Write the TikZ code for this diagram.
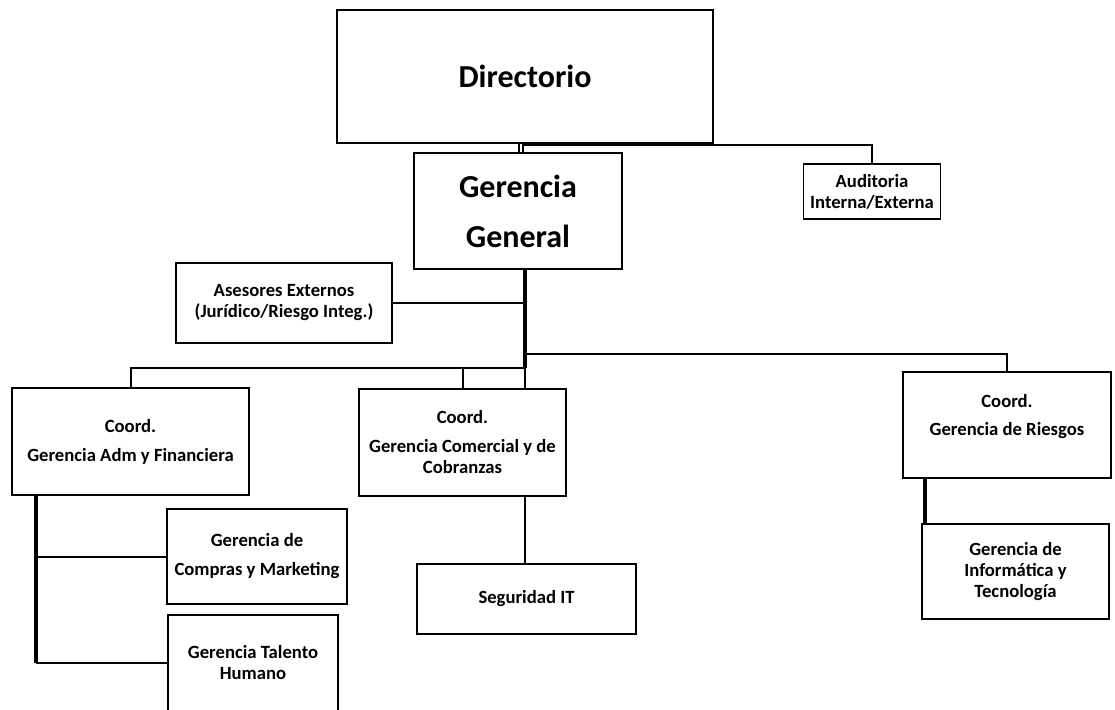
\documentclass[tikz,border=0pt]{standalone}
\usepackage{fontspec}
\setmainfont{Carlito}
\newcommand\orgsmall{\bfseries\fontsize{18.67}{21}\selectfont}
\newcommand\orgbig{\bfseries\fontsize{32}{50}\selectfont}
\tikzset{
  box/.style={draw, line width=1.8pt, inner sep=0pt, align=center, font=\orgsmall},
  bigbox/.style={box, font=\orgbig},
  ln/.style={line width=2pt},
  thk/.style={line width=3.2pt},
}
\begin{document}
\begin{tikzpicture}[x=1pt,y=-1pt]
\clip (0,0) rectangle (1115,709);
% boxes
\node[bigbox, minimum width=376pt, minimum height=133pt] (dir) at (525,76.5) {Directorio};
\node[bigbox, minimum width=208pt, minimum height=116pt] (gg) at (518,211) {Gerencia\\General};
\node[box, minimum width=137pt, minimum height=55pt] (aud) at (872,191.5) {Auditoria\\Interna/Externa};
\node[box, minimum width=216pt, minimum height=80pt] (ase) at (284,303) {Asesores Externos\\(Jurídico/Riesgo Integ.)};
\node[box, minimum width=237pt, minimum height=107pt] (adm) at (130.5,441.5) {Coord.\\[8pt]Gerencia Adm y Financiera};
\node[box, minimum width=207pt, minimum height=107pt] (com) at (462.5,442.5) {Coord.\\[8pt]Gerencia Comercial y de\\Cobranzas};
\node[box, minimum width=208pt, minimum height=106pt] (rie) at (1007,425) {Coord.\\[7pt]Gerencia de Riesgos\\[-1pt]\mbox{}};
\node[box, minimum width=180pt, minimum height=95pt] (cmp) at (257,556.5) {Gerencia de\\[8pt]Compras y Marketing};
\node[box, minimum width=170pt, minimum height=96pt] (tal) at (253,663) {Gerencia Talento\\Humano};
\node[box, minimum width=219pt, minimum height=70pt] (seg) at (526.5,599) {Seguridad IT};
\node[box, minimum width=187pt, minimum height=95pt] (inf) at (1015.5,571.5) {Gerencia de\\Informática y\\Tecnología};
% helper coordinates
\coordinate (xa) at (519,0);
\coordinate (xb) at (523,0);
\coordinate (ya) at (0,144.5);
\coordinate (tx) at (525,0);
\coordinate (rb) at (525,354);
\coordinate (lb) at (525,368);
\coordinate (lx) at (36,0);
\coordinate (ly) at (0,663);
\coordinate (ix) at (925,0);
% connectors
\draw[ln] (dir.south -| xa) -- (gg.north -| xa);
\draw[ln] (gg.north -| xb) |- (aud.north |- ya) -- (aud.north);
\draw[thk] (gg.south -| tx) -- (lb);
\draw[ln] (lb) -- (com.north -| tx);
\draw[ln] (ase.east) -- (ase.east -| tx);
\draw[ln] (rb) -| (rie.north);
\draw[ln] (lb) -| (adm.north);
\draw[ln] (com.north) -- (com.north |- lb);
\draw[thk] (adm.south -| lx) -- (lx |- ly);
\draw[ln] (cmp.west -| lx) -- (cmp.west);
\draw[ln] (lx |- ly) -- (tal.west |- ly);
\draw[line width=2.6pt] (com.south -| tx) -- (seg.north -| tx);
\draw[thk] (rie.south -| ix) -- (inf.north -| ix);
\end{tikzpicture}
\end{document}
